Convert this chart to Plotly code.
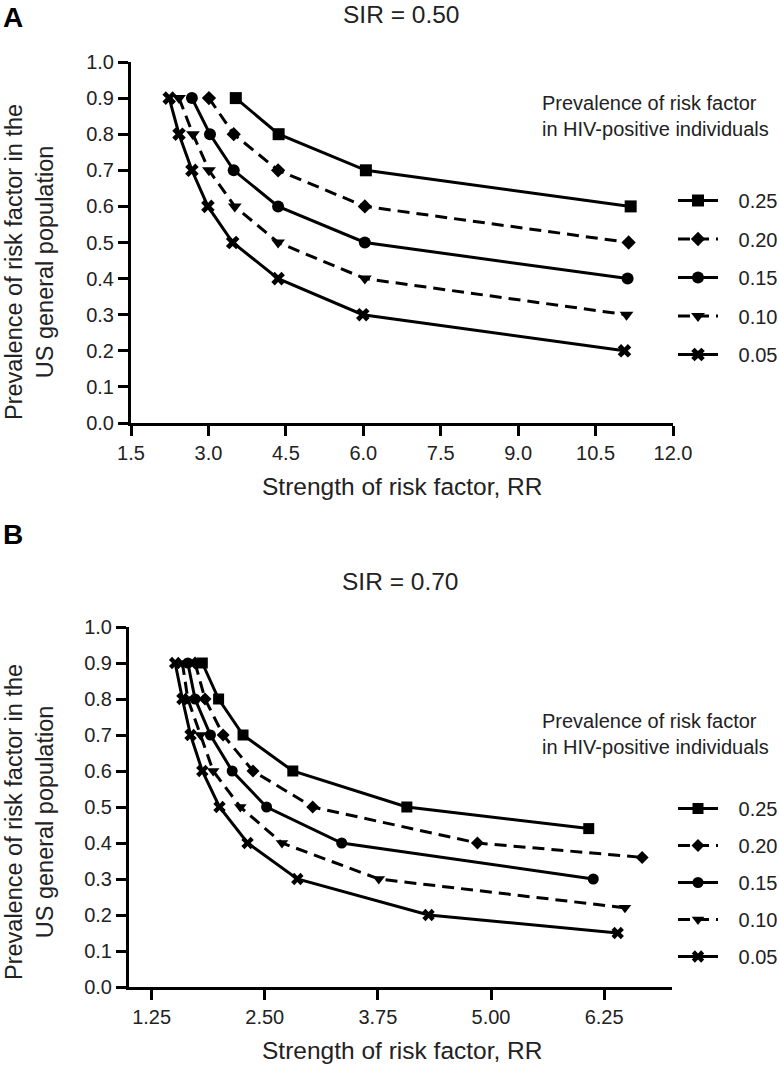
import plotly.graph_objects as go

W, H = 779, 1065

# ---------------- data ----------------
series_labels = ["0.25", "0.20", "0.15", "0.10", "0.05"]

# Panel A (SIR = 0.50): RR (x) vs prevalence in US general population (y)
A_x_025 = [3.53, 4.36, 6.05, 11.18]
A_y_025 = [0.9, 0.8, 0.7, 0.6]
A_x_020 = [3.01, 3.49, 4.35, 6.03, 11.14]
A_y_020 = [0.9, 0.8, 0.7, 0.6, 0.5]
A_x_015 = [2.68, 3.03, 3.49, 4.35, 6.03, 11.12]
A_y_015 = [0.9, 0.8, 0.7, 0.6, 0.5, 0.4]
A_x_010 = [2.43, 2.70, 3.01, 3.51, 4.35, 6.03, 11.10]
A_y_010 = [0.9, 0.8, 0.7, 0.6, 0.5, 0.4, 0.3]
A_x_005 = [2.24, 2.43, 2.68, 2.99, 3.47, 4.35, 5.99, 11.06]
A_y_005 = [0.9, 0.8, 0.7, 0.6, 0.5, 0.4, 0.3, 0.2]

# Panel B (SIR = 0.70)
B_x_025 = [1.81, 1.99, 2.26, 2.81, 4.07, 6.08]
B_y_025 = [0.9, 0.8, 0.7, 0.6, 0.5, 0.44]
B_x_020 = [1.73, 1.84, 2.04, 2.37, 3.03, 4.85, 6.67]
B_y_020 = [0.9, 0.8, 0.7, 0.6, 0.5, 0.4, 0.36]
B_x_015 = [1.65, 1.73, 1.90, 2.14, 2.52, 3.35, 6.13]
B_y_015 = [0.9, 0.8, 0.7, 0.6, 0.5, 0.4, 0.3]
B_x_010 = [1.59, 1.65, 1.79, 1.93, 2.23, 2.69, 3.76, 6.48]
B_y_010 = [0.9, 0.8, 0.7, 0.6, 0.5, 0.4, 0.3, 0.22]
B_x_005 = [1.51, 1.59, 1.68, 1.81, 2.00, 2.31, 2.86, 4.31, 6.40]
B_y_005 = [0.9, 0.8, 0.7, 0.6, 0.5, 0.4, 0.3, 0.2, 0.15]

A_xticks = [1.5, 3.0, 4.5, 6.0, 7.5, 9.0, 10.5, 12.0]
B_xticks = [1.25, 2.50, 3.75, 5.00, 6.25]
yticks = [0.0, 0.1, 0.2, 0.3, 0.4, 0.5, 0.6, 0.7, 0.8, 0.9, 1.0]

# ---------------- styles ----------------
symbols = ["square", "diamond", "circle", "triangle-down", "x"]
msizes = [12, 11, 12, 12, 12]
dashes = ["solid", "12px,7px", "solid", "12px,7px", "solid"]
FONT = "Liberation Sans, Arial, sans-serif"
GAP = "\u2002\u00a0"

fig = go.Figure()

A_sets = [(A_x_025, A_y_025), (A_x_020, A_y_020), (A_x_015, A_y_015),
          (A_x_010, A_y_010), (A_x_005, A_y_005)]
B_sets = [(B_x_025, B_y_025), (B_x_020, B_y_020), (B_x_015, B_y_015),
          (B_x_010, B_y_010), (B_x_005, B_y_005)]

for i, (xs, ys) in enumerate(A_sets):
    fig.add_trace(go.Scatter(
        x=xs, y=ys, mode="lines+markers", name=GAP + series_labels[i],
        line=dict(color="black", width=3, dash=dashes[i]),
        marker=dict(symbol=symbols[i], size=msizes[i], color="black",
                    line=dict(width=0)),
        xaxis="x", yaxis="y", legend="legend", legendgroup="a" + str(i),
        cliponaxis=False))

for i, (xs, ys) in enumerate(B_sets):
    fig.add_trace(go.Scatter(
        x=xs, y=ys, mode="lines+markers", name=GAP + series_labels[i],
        line=dict(color="black", width=3, dash=dashes[i]),
        marker=dict(symbol=symbols[i], size=msizes[i] - 1, color="black",
                    line=dict(width=0)),
        xaxis="x2", yaxis="y2", legend="legend2", legendgroup="b" + str(i),
        cliponaxis=False))

axis_common = dict(showline=True, linecolor="black", linewidth=3,
                   ticks="outside", ticklen=10, tickwidth=3, tickcolor="black",
                   showgrid=False, zeroline=False, automargin=False,
                   tickfont=dict(family=FONT, size=20, color="#222"))

def py(px):
    return 1 - px / H

def px_(x):
    return x / W

fig.update_layout(
    width=W, height=H,
    margin=dict(l=0, r=0, t=0, b=0, autoexpand=False),
    paper_bgcolor="white", plot_bgcolor="white",
    showlegend=True,
    xaxis=dict(domain=[px_(131), px_(673)], range=[1.5, 12.0],
               tickvals=A_xticks, ticktext=[f"{v:.1f}" for v in A_xticks],
               anchor="y", **axis_common),
    yaxis=dict(domain=[py(423), py(62)], range=[0, 1.0],
               tickvals=yticks, ticktext=[f"{v:.1f}" for v in yticks],
               anchor="x", **axis_common),
    xaxis2=dict(domain=[px_(129), px_(672)], range=[1.0, 7.0],
                tickvals=B_xticks, ticktext=[f"{v:.2f}" for v in B_xticks],
                anchor="y2", **axis_common),
    yaxis2=dict(domain=[py(987), py(627)], range=[0, 1.0],
                tickvals=yticks, ticktext=[f"{v:.1f}" for v in yticks],
                anchor="x2", **axis_common),
    legend=dict(x=px_(673), y=py(181), xanchor="left", yanchor="top",
                font=dict(family=FONT, size=20, color="#222"),
                tracegroupgap=9.5, itemwidth=40, bgcolor="rgba(0,0,0,0)",
                traceorder="grouped"),
    legend2=dict(x=px_(673), y=py(789), xanchor="left", yanchor="top",
                 font=dict(family=FONT, size=20, color="#222"),
                 tracegroupgap=8, itemwidth=40, bgcolor="rgba(0,0,0,0)",
                 traceorder="grouped"),
)

ann = []
def add_text(text, x, y, size, xanchor="center", yanchor="middle", bold=False,
             angle=0, align="center"):
    ann.append(dict(text=("<b>%s</b>" % text) if bold else text,
                    x=px_(x), y=py(y), xref="paper", yref="paper",
                    xanchor=xanchor, yanchor=yanchor, showarrow=False,
                    textangle=angle, align=align,
                    font=dict(family=FONT, size=size, color="#222" if not bold else "black")))

add_text("A", 1, 0, 28, xanchor="left", yanchor="top", bold=True)
add_text("B", 1, 534, 28, xanchor="left", bold=True)
add_text("SIR = 0.50", 401, 15, 24.5)
add_text("SIR = 0.70", 400, 581, 24.5)
add_text("Strength of risk factor, RR", 402, 486, 24.5)
add_text("Strength of risk factor, RR", 402, 1050, 24.5)
add_text("Prevalence of risk factor in the<br>US general population", 29, 262, 23.5, angle=-90)
add_text("Prevalence of risk factor in the<br>US general population", 29, 822, 23.5, angle=-90)
add_text("Prevalence of risk factor<br>in HIV-positive individuals", 540, 116, 20,
         xanchor="left", align="left")
add_text("Prevalence of risk factor<br>in HIV-positive individuals", 540, 734, 20,
         xanchor="left", align="left")
fig.update_layout(annotations=ann)

fig.write_html("out.html", config={"displayModeBar": False},
               post_script="document.body.style.margin='0px';document.body.style.overflow='hidden';")
